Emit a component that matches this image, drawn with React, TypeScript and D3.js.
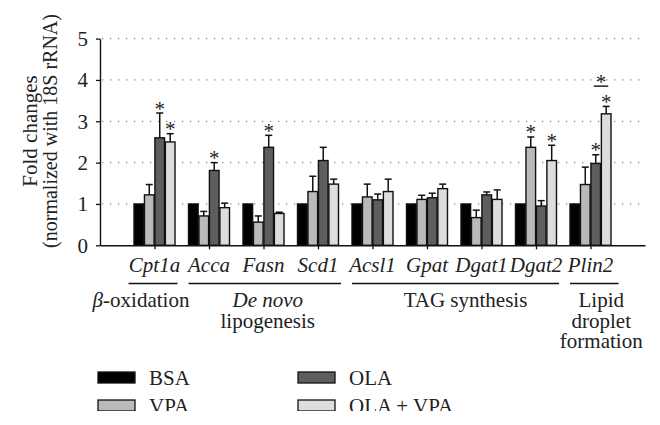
import React, { useEffect, useRef } from "react";
import * as d3 from "d3";

const categories = ["Cpt1a", "Acca", "Fasn", "Scd1", "Acsl1", "Gpat", "Dgat1", "Dgat2", "Plin2"];
const seriesNames = ["BSA", "VPA", "OLA", "OLA + VPA"];
const seriesColors = ["#000000", "#bababa", "#5e5e5e", "#dddddd"];

const bsaValues = [1, 1, 1, 1, 1, 1, 1, 1, 1];
const bsaErrors = [0, 0, 0, 0, 0, 0, 0, 0, 0];
const vpaValues = [1.22, 0.71, 0.56, 1.3, 1.17, 1.11, 0.67, 2.37, 1.47];
const vpaErrors = [0.25, 0.11, 0.15, 0.37, 0.31, 0.1, 0.18, 0.25, 0.42];
const olaValues = [2.6, 1.81, 2.37, 2.05, 1.1, 1.15, 1.22, 0.95, 1.98];
const olaErrors = [0.6, 0.19, 0.29, 0.32, 0.14, 0.11, 0.07, 0.13, 0.21];
const olaVpaValues = [2.5, 0.91, 0.77, 1.48, 1.3, 1.37, 1.11, 2.05, 3.18];
const olaVpaErrors = [0.2, 0.11, 0.03, 0.12, 0.3, 0.11, 0.23, 0.37, 0.18];

const bsaStars = [0, 0, 0, 0, 0, 0, 0, 0, 0];
const vpaStars = [0, 0, 0, 0, 0, 0, 0, 1, 0];
const olaStars = [1, 1, 1, 0, 0, 0, 0, 0, 1];
const olaVpaStars = [1, 0, 0, 0, 0, 0, 0, 1, 1];

const yTicks = [0, 1, 2, 3, 4, 5];
const gridTicks = [1, 2, 3, 4, 5];

const pathwayLabels = [["β-oxidation"], ["De novo", "lipogenesis"], ["TAG synthesis"], ["Lipid", "droplet", "formation"]];
const pathwayFrom = [0, 1, 4, 8];
const pathwayTo = [0, 3, 7, 8];
const pathwayItalicFirst = [false, true, false, false];

// bracket comparison (Plin2: OLA vs OLA + VPA)
const bracketCategory = 8;
const bracketSeries = [2, 3];
const bracketHeight = 3.85;

const FONT = "Liberation Serif, DejaVu Serif, serif";
const FS = 21;

export default function App() {
  const ref = useRef<SVGSVGElement | null>(null);

  useEffect(() => {
    const svg = d3.select(ref.current);
    svg.selectAll("*").remove();

    const allValues = [bsaValues, vpaValues, olaValues, olaVpaValues];
    const allErrors = [bsaErrors, vpaErrors, olaErrors, olaVpaErrors];
    const allStars = [bsaStars, vpaStars, olaStars, olaVpaStars];

    const x = d3.scaleLinear().domain([0, 10]).range([100, 645]);
    const y = d3.scaleLinear().domain([0, 5]).range([245.3, 38.6]);
    const inner = d3.scaleBand<string>().domain(seriesNames).range([-20.5, 20.5]).paddingInner(0.08);
    const cx = (i: number) => x(i + 1);

    svg
      .append("g")
      .selectAll("line")
      .data(gridTicks)
      .join("line")
      .attr("x1", 102)
      .attr("x2", 642)
      .attr("y1", (d) => y(d))
      .attr("y2", (d) => y(d))
      .attr("stroke", "#8a8a8a")
      .attr("stroke-width", 1.3)
      .attr("stroke-dasharray", "1.3 6.7");

    const bw = inner.bandwidth();
    seriesNames.forEach((s, si) => {
      const g = svg.append("g");
      const vals = allValues[si];
      const errs = allErrors[si];
      const stars = allStars[si];
      categories.forEach((c, ci) => {
        const bx = cx(ci) + (inner(s) as number);
        const mid = bx + bw / 2;
        const v = vals[ci];
        const e = errs[ci];
        if (e > 0) {
          g.append("line")
            .attr("x1", mid)
            .attr("x2", mid)
            .attr("y1", y(v))
            .attr("y2", y(v + e))
            .attr("stroke", "#111")
            .attr("stroke-width", 1.5);
          g.append("line")
            .attr("x1", mid - 3.5)
            .attr("x2", mid + 3.5)
            .attr("y1", y(v + e))
            .attr("y2", y(v + e))
            .attr("stroke", "#111")
            .attr("stroke-width", 1.5);
        }
        g.append("rect")
          .attr("x", bx)
          .attr("y", y(v))
          .attr("width", bw)
          .attr("height", y(0) - y(v))
          .attr("fill", seriesColors[si])
          .attr("stroke", "#111")
          .attr("stroke-width", 1.4);
        if (stars[ci]) {
          g.append("text")
            .attr("x", mid)
            .attr("y", y(v + e) + 2.5)
            .attr("text-anchor", "middle")
            .style("font-family", FONT)
            .attr("font-size", 21)
            .attr("fill", "#222")
            .text("*");
        }
      });
    });

    {
      const a = cx(bracketCategory) + (inner(seriesNames[bracketSeries[0]]) as number) + bw / 2;
      const b = cx(bracketCategory) + (inner(seriesNames[bracketSeries[1]]) as number) + bw / 2;
      svg
        .append("line")
        .attr("x1", a - 2)
        .attr("x2", b + 2)
        .attr("y1", y(bracketHeight))
        .attr("y2", y(bracketHeight))
        .attr("stroke", "#111")
        .attr("stroke-width", 1.4);
      svg
        .append("text")
        .attr("x", (a + b) / 2)
        .attr("y", y(bracketHeight) + 2.5)
        .attr("text-anchor", "middle")
        .style("font-family", FONT)
        .attr("font-size", 21)
        .attr("fill", "#222")
        .text("*");
    }

    const yAxis = svg
      .append("g")
      .attr("transform", `translate(${x(0)},0)`)
      .call(
        d3
          .axisLeft(y)
          .tickValues(yTicks)
          .tickSize(4)
          .tickSizeOuter(0)
          .tickPadding(8)
          .tickFormat(d3.format("d"))
      );
    yAxis.select(".domain").attr("stroke", "#111").attr("stroke-width", 1.4);
    yAxis.selectAll(".tick line").attr("stroke", "#111").attr("stroke-width", 1.3);
    yAxis
      .selectAll(".tick text")
      .style("font-family", FONT)
      .attr("font-size", FS)
      .attr("fill", "#222");

    const xAxis = svg
      .append("g")
      .attr("transform", `translate(0,${y(0)})`)
      .call(
        d3
          .axisBottom(x)
          .tickValues(categories.map((_, i) => i + 1))
          .tickSize(4)
          .tickSizeOuter(0)
          .tickFormat(() => "")
      );
    xAxis.select(".domain").attr("stroke", "#111").attr("stroke-width", 1.4);
    xAxis.selectAll(".tick line").attr("stroke", "#111").attr("stroke-width", 1.3);

    svg
      .append("g")
      .selectAll("text")
      .data(categories)
      .join("text")
      .attr("x", (_, i) => cx(i))
      .attr("y", 272)
      .attr("text-anchor", "middle")
      .style("font-family", FONT)
      .attr("font-style", "italic")
      .attr("font-size", FS)
      .attr("fill", "#222")
      .text((d) => d);

    const textShift = [-12, 3, 10, 7];
    pathwayLabels.forEach((lines, gi) => {
      const left = cx(pathwayFrom[gi]) - (gi === 0 ? 26 : 20.5);
      const right = cx(pathwayTo[gi]) + (gi === 3 ? 28 : 23);
      svg
        .append("line")
        .attr("x1", left)
        .attr("x2", right)
        .attr("y1", 283.5)
        .attr("y2", 283.5)
        .attr("stroke", "#111")
        .attr("stroke-width", 1.4);
      const tx = (left + right) / 2 + textShift[gi];
      lines.forEach((ln, li) => {
        const t = svg
          .append("text")
          .attr("x", tx)
          .attr("y", 307 + li * 20.5)
          .attr("text-anchor", "middle")
          .style("font-family", FONT)
          .attr("font-size", FS)
          .attr("fill", "#222");
        if (li === 0 && pathwayItalicFirst[gi]) t.attr("font-style", "italic");
        if (ln.startsWith("β")) {
          t.append("tspan").attr("font-style", "italic").text("β");
          t.append("tspan").text(ln.slice(1));
        } else {
          t.text(ln);
        }
      });
    });

    const yt = svg.append("g").attr("transform", "translate(0,131)");
    yt.append("text")
      .attr("transform", "translate(36.5,0) rotate(-90)")
      .attr("text-anchor", "middle")
      .style("font-family", FONT)
      .attr("font-size", FS)
      .attr("fill", "#222")
      .text("Fold changes");
    yt.append("text")
      .attr("transform", "translate(56.5,0) rotate(-90)")
      .attr("text-anchor", "middle")
      .style("font-family", FONT)
      .attr("font-size", 20)
      .attr("fill", "#222")
      .text("(normalized with 18S rRNA)");

    const defs = svg.append("defs");
    defs
      .append("clipPath")
      .attr("id", "legclip")
      .append("rect")
      .attr("x", 0)
      .attr("y", 0)
      .attr("width", 660)
      .attr("height", 411);
    const leg = svg.append("g").attr("clip-path", "url(#legclip)");
    const legX = [98, 98, 298, 298];
    const legY = [372, 400, 372, 400];
    seriesNames.forEach((s, si) => {
      leg
        .append("rect")
        .attr("x", legX[si])
        .attr("y", legY[si])
        .attr("width", 37)
        .attr("height", 11)
        .attr("fill", seriesColors[si])
        .attr("stroke", "#111")
        .attr("stroke-width", 1.3);
      leg
        .append("text")
        .attr("x", legX[si] + 51)
        .attr("y", legY[si] + 13)
        .style("font-family", FONT)
        .attr("font-size", FS)
        .attr("fill", "#222")
        .text(s);
    });
  }, []);

  return (
    <svg
      ref={ref}
      width={660}
      height={425}
      style={{ position: "absolute", left: 0, top: 0, background: "#fff" }}
    />
  );
}
